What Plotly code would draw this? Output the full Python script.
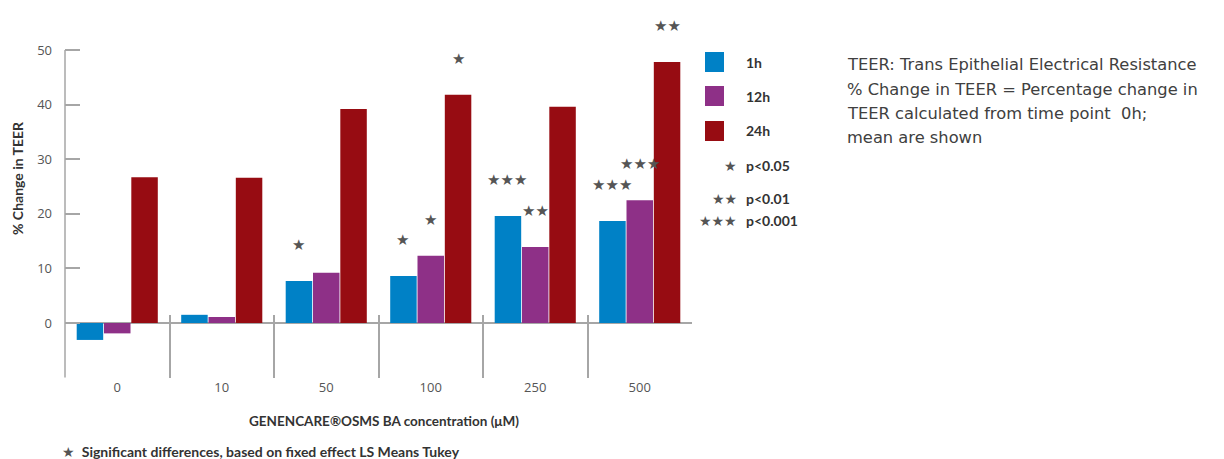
import plotly.graph_objects as go

categories = ["0", "10", "50", "100", "250", "500"]
series_names = ["1h", "12h", "24h"]
values_1h = [-3.1, 1.5, 7.7, 8.6, 19.6, 18.7]
values_12h = [-1.9, 1.1, 9.2, 12.3, 13.9, 22.5]
values_24h = [26.7, 26.6, 39.2, 41.8, 39.6, 47.8]
sig_1h = ["", "", "★", "★", "★★★", "★★★"]
sig_12h = ["", "", "", "★", "★★", "★★★"]
sig_24h = ["", "", "", "★", "", "★★"]
y_ticks = [-10, 0, 10, 20, 30, 40, 50]
y_ticktext = ["", "0", "10", "20", "30", "40", "50"]
legend_sig = ["p<0.05", "p<0.01", "p<0.001"]
legend_stars = ["★", "★★", "★★★"]
note_lines = [
    "TEER: Trans Epithelial Electrical Resistance",
    "% Change in TEER = Percentage change in",
    "TEER calculated from time point  0h;",
    "mean are shown",
]

colors = ["#0081C6", "#8E3087", "#970C12"]
star_color = "#555555"
text_color = "#333333"
axis_color = "#A6A6A6"
BOLD = "Lato, sans-serif"
LIGHT = "Open Sans, sans-serif"

# page offset: the html body adds an 8px margin
OX, OY = 8, 8
W, H = 1224, 459
# plot area in reference page pixels
PL, PR, PT, PB = 65, 692, 8, 378
PW, PH = PR - PL, PB - PT
ZERO_Y = 323
UNIT = (ZERO_Y - 50) / 50.0  # pixels per unit
y_top = (ZERO_Y - PT) / UNIT
y_bot = -(PB - ZERO_Y) / UNIT


def px(x):
    return (x - PL) / PW


def py(y):
    return 1 - (y - PT) / PH


fig = go.Figure()
all_vals = [values_1h, values_12h, values_24h]
all_sig = [sig_1h, sig_12h, sig_24h]
for name, vals, col in zip(series_names, all_vals, colors):
    fig.add_trace(go.Bar(x=categories, y=vals, name=name, marker=dict(color=col, line=dict(width=0)),
                         showlegend=False))

# significance stars above bars
offsets = [-1, 0, 1]
for vals, sigs, off in zip(all_vals, all_sig, offsets):
    for cat_i, (v, s) in enumerate(zip(vals, sigs)):
        if s:
            fig.add_annotation(x=cat_i + off * 0.27, y=v, xref="x", yref="y", text=s,
                               showarrow=False, yanchor="middle", yshift=36,
                               font=dict(family="DejaVu Sans", size=15, color=star_color))

# y axis line from -10 to 50
fig.add_shape(type="line", xref="paper", yref="y", x0=0, x1=0, y0=-10, y1=50,
              line=dict(color=axis_color, width=1.5))

# custom legend
leg_y = [62, 96, 131]
for i, (name, col) in enumerate(zip(series_names, colors)):
    yc = leg_y[i]
    fig.add_shape(type="rect", xref="paper", yref="paper",
                  x0=px(705), x1=px(724), y0=py(yc + 10), y1=py(yc - 10),
                  line=dict(width=0), fillcolor=col)
    fig.add_annotation(xref="paper", yref="paper", x=px(744), y=py(yc),
                       text="<b>" + name + "</b>", showarrow=False, xanchor="left", yanchor="middle",
                       font=dict(family=BOLD, size=14, color=text_color))
sig_y = [165, 198, 220]
for i, (lab, st) in enumerate(zip(legend_sig, legend_stars)):
    yc = sig_y[i]
    fig.add_annotation(xref="paper", yref="paper", x=px(739), y=py(yc + 1),
                       text=st, showarrow=False, xanchor="right", yanchor="middle",
                       font=dict(family="DejaVu Sans", size=14, color=star_color))
    fig.add_annotation(xref="paper", yref="paper", x=px(744), y=py(yc),
                       text="<b>" + lab + "</b>", showarrow=False, xanchor="left", yanchor="middle",
                       font=dict(family=BOLD, size=14, color=text_color))

# explanatory note, one line per annotation for exact spacing
for i, line in enumerate(note_lines):
    fig.add_annotation(xref="paper", yref="paper", x=px(845), y=py(65 + 24 * i),
                       text=line, showarrow=False, xanchor="left", yanchor="middle",
                       font=dict(family="DejaVu Sans", size=16.3, color="#404040"))

# axis titles
fig.add_annotation(xref="paper", yref="paper", x=px(17), y=py(178),
                   text="<b>% Change in TEER</b>", showarrow=False, textangle=-90,
                   xanchor="center", yanchor="middle",
                   font=dict(family=BOLD, size=14, color=text_color))
fig.add_annotation(xref="paper", yref="paper", x=px(384), y=py(421),
                   text="<b>GENENCARE®OSMS BA concentration (μM)</b>", showarrow=False,
                   xanchor="center", yanchor="middle",
                   font=dict(family=BOLD, size=13.5, color=text_color))
fig.add_annotation(xref="paper", yref="paper", x=px(60), y=py(451),
                   text="<span style='font-family:DejaVu Sans;color:#555'>★</span>  <b>Significant differences, based on fixed effect LS Means Tukey</b>",
                   showarrow=False, xanchor="left", yanchor="middle",
                   font=dict(family=BOLD, size=14, color=text_color))

fig.update_layout(
    width=W, height=H,
    margin=dict(l=PL - OX, r=W - (PR - OX), t=PT - OY, b=H - (PB - OY), autoexpand=False),
    paper_bgcolor="white", plot_bgcolor="white",
    barmode="group", bargap=0.216, bargroupgap=0.03,
    font=dict(family=LIGHT, color="#555555"),
)
fig.update_xaxes(type="category", range=[-0.5, 5.5], showline=False, showgrid=False, automargin=False,
                 ticks="inside", tickson="boundaries", ticklen=63, tickcolor=axis_color, tickwidth=1.5,
                 ticklabelstandoff=0, tickfont=dict(family=LIGHT, size=13, color="#555555"))
fig.update_yaxes(range=[y_bot, y_top], tickvals=y_ticks, ticktext=y_ticktext, showgrid=False, automargin=False,
                 showline=False, zeroline=True, zerolinecolor=axis_color, zerolinewidth=2,
                 ticks="inside", ticklen=15, tickcolor=axis_color, tickwidth=1.5,
                 ticklabelstandoff=12, tickfont=dict(family=LIGHT, size=13, color="#555555"))

fig.write_html("out.html")
